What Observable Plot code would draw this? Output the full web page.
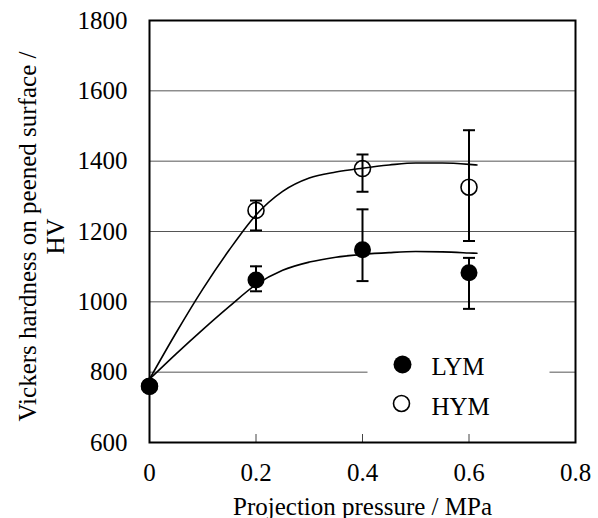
<!DOCTYPE html>
<html>
<head>
<meta charset="utf-8">
<script src="https://cdn.jsdelivr.net/npm/d3@7"></script>
<script src="https://cdn.jsdelivr.net/npm/@observablehq/plot@0.6"></script>
<style>
  body { margin: 0; background: white; }
</style>
</head>
<body>
<div id="chart"></div>
<script>
// Measured data
const pressure = [0, 0.2, 0.4, 0.6];
const lymMean = [760, 1062, 1148, 1083];
const lymLow  = [760, 1030, 1059, 980];
const lymHigh = [760, 1101, 1263, 1125];
const hymMean = [760, 1260, 1379, 1326];
const hymLow  = [760, 1203, 1313, 1173];
const hymHigh = [760, 1288, 1419, 1488];

// Fitted curves
const fitX   = [0, 0.05, 0.1, 0.15, 0.2, 0.25, 0.3, 0.35, 0.4, 0.45, 0.5, 0.55, 0.6, 0.615];
const lymFit = [780, 852, 921, 987, 1049, 1090, 1113, 1127, 1135, 1140, 1143, 1142, 1139, 1138];
const hymFit = [780, 912, 1036, 1148, 1247, 1314, 1352, 1369, 1380, 1389, 1395, 1395, 1391, 1389];

const xTicks = [0, 0.2, 0.4, 0.6, 0.8];
const yTicks = [600, 800, 1000, 1200, 1400, 1600, 1800];
const gridValues = [800, 1000, 1200, 1400, 1600];
const innerXTicks = [0.2, 0.4, 0.6];

const xTitle = "Projection pressure / MPa";
const yTitle = "Vickers hardness on peened surface /\nHV";
const seriesNames = ["LYM", "HYM"];

const toRows = (mean, low, high, s) => pressure.map((p, i) => ({p, mean: mean[i], low: low[i], high: high[i], s}));
const lymRows = toRows(lymMean, lymLow, lymHigh, "LYM");
const hymRows = toRows(hymMean, hymLow, hymHigh, "HYM");
const errRows = [...lymRows, ...hymRows].filter(d => d.high !== d.low);
const lymCurve = fitX.map((x, i) => ({x, y: lymFit[i]}));
const hymCurve = fitX.map((x, i) => ({x, y: hymFit[i]}));

const capSymbol = {
  draw(context, size) {
    const w = Math.sqrt(size / Math.PI);
    context.moveTo(-w, 0);
    context.lineTo(w, 0);
  }
};

const chart = Plot.plot({
  width: 598,
  height: 518,
  marginLeft: 149,
  marginRight: 23,
  marginTop: 20,
  marginBottom: 76,
  style: {fontFamily: "'Liberation Serif', 'Times New Roman', serif", fontSize: "25px", color: "black", background: "white"},
  x: {domain: [0, 0.8], label: null},
  y: {domain: [600, 1800], label: null},
  marks: [
    Plot.gridY(gridValues, {stroke: "#555", strokeOpacity: 1, strokeWidth: 1}),
    Plot.axisX(xTicks, {tickSize: 0, tickPadding: 21, tickFormat: d => String(d), fontSize: 25}),
    Plot.axisY(yTicks, {tickSize: 0, tickPadding: 22, tickFormat: d => String(d), fontSize: 25}),
    Plot.ruleX(innerXTicks, {stroke: "#444", strokeWidth: 1, insetTop: 414}),
    // error bars
    Plot.ruleX(errRows, {x: "p", y1: "low", y2: "high", stroke: "black", strokeWidth: 2}),
    Plot.dot(errRows, {x: "p", y: "low", symbol: capSymbol, r: 6, stroke: "black", strokeWidth: 2, fill: "none"}),
    Plot.dot(errRows, {x: "p", y: "high", symbol: capSymbol, r: 6, stroke: "black", strokeWidth: 2, fill: "none"}),
    // fitted curves
    Plot.line(hymCurve, {x: "x", y: "y", curve: "monotone-x", stroke: "black", strokeWidth: 1.6}),
    Plot.line(lymCurve, {x: "x", y: "y", curve: "monotone-x", stroke: "black", strokeWidth: 1.6}),
    // markers
    Plot.dot(hymRows, {x: "p", y: "mean", r: 8, fill: "none", stroke: "black", strokeWidth: 1.6}),
    Plot.dot(lymRows, {x: "p", y: "mean", r: 8.5, fill: "black", stroke: "none"}),
    // legend
    Plot.frame({fill: "white", stroke: null, insetLeft: 218, insetRight: 26, insetTop: 322, insetBottom: 20}),
    Plot.dot([seriesNames[0]], {frameAnchor: "top-left", dx: 253, dy: 344, r: 9, fill: "black", stroke: "none"}),
    Plot.dot([seriesNames[1]], {frameAnchor: "top-left", dx: 252, dy: 383, r: 8, fill: "none", stroke: "black", strokeWidth: 1.6}),
    Plot.text([seriesNames[0]], {text: d => d, frameAnchor: "top-left", dx: 282, dy: 346, textAnchor: "start", lineAnchor: "middle", fontSize: 25}),
    Plot.text([seriesNames[1]], {text: d => d, frameAnchor: "top-left", dx: 282, dy: 386, textAnchor: "start", lineAnchor: "middle", fontSize: 25}),
    // frame
    Plot.frame({stroke: "black", strokeWidth: 2}),
    // titles
    Plot.text([xTitle], {text: d => d, frameAnchor: "bottom", dy: 64, lineAnchor: "middle", fontSize: 25}),
    Plot.text([yTitle], {text: d => d, frameAnchor: "left", dx: -108, dy: 5, rotate: -90, textAnchor: "middle", lineAnchor: "middle", lineHeight: 1.12, fontSize: 25})
  ]
});
document.getElementById("chart").appendChild(chart);
</script>
</body>
</html>
